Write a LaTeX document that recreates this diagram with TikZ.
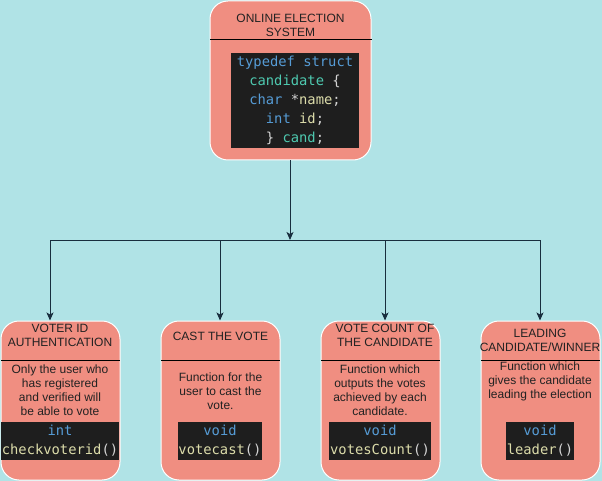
\documentclass[tikz,border=0pt]{standalone}
\usepackage{fontspec}
\setmainfont{Liberation Sans}
\newfontfamily\codefont{DejaVu Sans Mono}
\usetikzlibrary{arrows.meta}
\definecolor{bgc}{HTML}{B0E3E6}
\definecolor{boxc}{HTML}{F08E81}
\definecolor{linec}{HTML}{182E3E}
\definecolor{codebg}{HTML}{1E1E1E}
\definecolor{kw}{HTML}{569CD6}
\definecolor{ty}{HTML}{4EC9B0}
\definecolor{fn}{HTML}{DCDCAA}
\definecolor{pl}{HTML}{D4D4D4}
\definecolor{txt}{HTML}{222222}
\begin{document}
\begin{tikzpicture}[x=1pt,y=-1pt,
  card/.style={draw=white, line width=1pt, fill=boxc, rounded corners=18pt,
    minimum width=119pt, minimum height=159pt, inner sep=0pt},
  codeblk/.style={fill=codebg, inner sep=0pt, minimum height=38pt, text=pl,
    align=center, font=\codefont\fontsize{13.8}{19}\selectfont},
  lbl/.style={text=txt, align=center, inner sep=0pt, font=\fontsize{12}{14}\selectfont},
  sepline/.style={draw=black, line width=0.8pt},
  conn/.style={draw=linec, line width=1pt},
  arr/.style={conn, -{Stealth[length=8pt,width=7pt,inset=2pt]}}]
\fill[bgc] (0,0) rectangle (602,481);
\useasboundingbox (0,0) rectangle (602,481);

% top box
\node[card, minimum width=161pt, minimum height=159pt] (sys) at (290.5,80.5) {};
\draw[sepline] (210,39) -- (372,39);
\node[lbl] (systitle) at (290.5,25) {ONLINE ELECTION\\SYSTEM};
\node[codeblk, minimum width=128pt, minimum height=95pt] (syscode) at (295,100.5)
  {{\color{kw}typedef struct}\\
   {\color{ty}candidate} \{\\
   {\color{kw}char} *{\color{fn}name};\\
   {\color{kw}int} {\color{fn}id};\\
   \} {\color{ty}cand};};

% children
\node[card] (voter) at (60.5,400.5) {};
\node[card] (cast) at (220.5,400.5) {};
\node[card] (count) at (380.5,400.5) {};
\node[card] (lead) at (540.5,400.5) {};
\draw[sepline] (1,360) -- (120,360);
\draw[sepline] (161,360) -- (280,360);
\draw[sepline] (321,360) -- (440,360);
\draw[sepline] (481,360) -- (600,360);

\node[lbl] (voterh) at (60,335) {VOTER ID\\AUTHENTICATION};
\node[lbl] (casth) at (220.5,336) {CAST THE VOTE};
\node[lbl] (counth) at (385,335) {VOTE COUNT OF\\THE CANDIDATE};
\node[lbl] (leadh) at (540,340) {LEADING\\CANDIDATE/WINNER};

\node[lbl] (voterb) at (60,390.5) {Only the user who\\has registered\\and verified will\\be able to vote};
\node[lbl] (castb) at (220.5,391) {Function for the\\user to cast the\\vote.};
\node[lbl] (countb) at (380,390.5) {Function which\\outputs the votes\\achieved by each\\candidate.};
\node[lbl] (leadb) at (540,381) {Function which\\gives the candidate\\leading the election};

\node[codeblk, minimum width=118pt] (voterc) at (60,441) {{\color{kw}int}\\{\color{fn}checkvoterid}()};
\node[codeblk, minimum width=84pt] (castc) at (220,441) {{\color{kw}void}\\{\color{fn}votecast}()};
\node[codeblk, minimum width=102pt] (countc) at (380,441) {{\color{kw}void}\\{\color{fn}votesCount}()};
\node[codeblk, minimum width=68pt] (leadc) at (540,441) {{\color{kw}void}\\{\color{fn}leader}()};

% connectors
\coordinate (hub) at (290,240);
\coordinate (hL) at (50,240);
\coordinate (hR) at (540,240);
\coordinate (h2) at (220,240);
\coordinate (h3) at (385,240);
\draw[arr] (sys.south -| hub) -- (hub);
\draw[conn] (hL) -- (hR);
\draw[arr] (hL) -- (hL |- voter.north);
\draw[arr] (h2) -- (h2 |- cast.north);
\draw[arr] (h3) -- (h3 |- count.north);
\draw[arr] (hR) -- (hR |- lead.north);
\end{tikzpicture}
\end{document}
